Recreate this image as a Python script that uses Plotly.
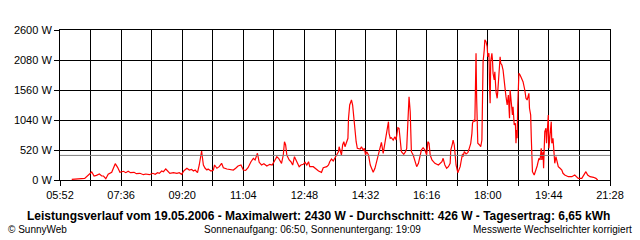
import plotly.graph_objects as go

# ---- data ----
TIMES = [
    "06:12", "06:29", "06:34", "06:46", "06:50", "06:54", "06:59", "07:03", "07:06", "07:10",
    "07:14", "07:20", "07:26", "07:30", "07:34", "07:40", "07:44", "07:48", "07:52", "07:58",
    "08:02", "08:08", "08:14", "08:18", "08:24", "08:30", "08:34", "08:38", "08:41", "08:45",
    "08:48", "08:52", "08:56", "08:59", "09:05", "09:11", "09:15", "09:19", "09:23", "09:28",
    "09:32", "09:36", "09:39", "09:42", "09:46", "09:49", "09:53", "09:56", "09:59", "10:02",
    "10:04", "10:09", "10:13", "10:15", "10:19", "10:23", "10:27", "10:30", "10:36", "10:41",
    "10:47", "10:51", "10:55", "11:00", "11:04", "11:08", "11:12", "11:17", "11:21", "11:24",
    "11:28", "11:31", "11:35", "11:39", "11:44", "11:49", "11:53", "11:57", "12:01", "12:04",
    "12:06", "12:09", "12:12", "12:14", "12:16", "12:18", "12:22", "12:25", "12:28", "12:31",
    "12:35", "12:39", "12:42", "12:46", "12:49", "12:52", "12:55", "12:57", "13:03", "13:06",
    "13:12", "13:17", "13:20", "13:26", "13:29", "13:31", "13:34", "13:37", "13:40", "13:43",
    "13:46", "13:47", "13:50", "13:51", "13:53", "13:55", "13:57", "13:59", "14:00", "14:02",
    "14:03", "14:05", "14:07", "14:08", "14:10", "14:12", "14:14", "14:16", "14:18", "14:23",
    "14:25", "14:28", "14:30", "14:32", "14:34", "14:37", "14:40", "14:42", "14:45", "14:48",
    "14:51", "14:54", "14:57", "14:59", "15:02", "15:05", "15:07", "15:09", "15:11", "15:12",
    "15:14", "15:16", "15:19", "15:22", "15:24", "15:27", "15:29", "15:31", "15:33", "15:37",
    "15:40", "15:42", "15:44", "15:46", "15:48", "15:50", "15:53", "15:56", "15:59", "16:02",
    "16:05", "16:07", "16:10", "16:13", "16:16", "16:18", "16:20", "16:22", "16:25", "16:27",
    "16:30", "16:36", "16:42", "16:44", "16:47", "16:50", "16:53", "16:56", "16:57", "17:00",
    "17:01", "17:03", "17:05", "17:06", "17:09", "17:11", "17:13", "17:15", "17:17", "17:18",
    "17:20", "17:23", "17:26", "17:28", "17:31", "17:33", "17:34", "17:36", "17:38", "17:39",
    "17:40", "17:41", "17:42", "17:43", "17:46", "17:48", "17:50", "17:51", "17:52", "17:54",
    "17:55", "17:57", "17:59", "18:00", "18:02", "18:03", "18:04", "18:05", "18:07", "18:08",
    "18:09", "18:11", "18:12", "18:14", "18:16", "18:17", "18:19", "18:21", "18:22", "18:24",
    "18:26", "18:28", "18:30", "18:31", "18:33", "18:35", "18:37", "18:38", "18:40", "18:42",
    "18:43", "18:45", "18:47", "18:48", "18:49", "18:50", "18:51", "18:53", "18:55", "18:58",
    "19:00", "19:03", "19:05", "19:07", "19:10", "19:11", "19:13", "19:14", "19:16", "19:19",
    "19:21", "19:24", "19:27", "19:29", "19:31", "19:32", "19:34", "19:35", "19:37", "19:39",
    "19:40", "19:42", "19:43", "19:44", "19:46", "19:48", "19:49", "19:51", "19:53", "19:54",
    "19:56", "19:58", "20:00", "20:03", "20:06", "20:08", "20:11", "20:17", "20:23", "20:28",
    "20:31", "20:34", "20:40", "20:43", "20:47", "20:50", "20:54", "21:00", "21:04", "21:07",
]
WATTS = [
    12, 17, 29, 139, 69, 81, 104, 69, 69, 23,
    99, 133, 283, 220, 133, 151, 127, 151, 127, 133,
    109, 116, 92, 104, 92, 116, 99, 127, 116, 156,
    144, 191, 144, 116, 127, 116, 127, 99, 161, 203,
    173, 185, 156, 173, 127, 260, 503, 260, 203, 173,
    191, 156, 173, 260, 203, 231, 289, 213, 191, 185,
    173, 203, 243, 260, 173, 168, 213, 317, 376, 347,
    463, 307, 260, 283, 243, 272, 260, 329, 404, 376,
    329, 289, 433, 664, 607, 433, 347, 317, 260, 404,
    317, 231, 260, 272, 307, 260, 317, 231, 231, 203,
    156, 133, 213, 231, 260, 317, 364, 329, 376, 433,
    491, 577, 463, 433, 607, 664, 577, 636, 693, 723,
    1069, 1300, 1357, 1387, 1300, 1069, 837, 664, 549, 537,
    577, 520, 549, 433, 491, 433, 260, 191, 133, 203,
    317, 463, 549, 653, 463, 664, 780, 924, 1011, 809,
    723, 733, 693, 751, 693, 907, 896, 693, 491, 445,
    491, 549, 1184, 1444, 1184, 491, 433, 317, 231, 289,
    433, 520, 560, 520, 433, 664, 636, 433, 347, 317,
    289, 260, 317, 376, 260, 203, 231, 289, 520, 636,
    693, 607, 376, 260, 127, 173, 231, 347, 451, 404,
    491, 451, 473, 532, 636, 809, 983, 1040, 1011, 1589,
    2196, 1444, 983, 636, 607, 577, 693, 1127, 2051, 2253,
    2430, 2397, 2311, 2137, 2196, 1647, 1329, 2051, 2196, 2080,
    1849, 1733, 1877, 1531, 1416, 1531, 1964, 2137, 2023, 1993,
    1907, 1763, 1531, 1444, 1300, 1473, 1069, 1560, 1300, 1127,
    1271, 953, 983, 636, 867, 723, 1300, 1849, 1820, 1733,
    1704, 1560, 1416, 1387, 1503, 1243, 1127, 751, 144, 87,
    144, 243, 376, 347, 549, 347, 491, 203, 837, 896,
    636, 924, 1127, 549, 837, 1011, 636, 723, 433, 289,
    404, 289, 231, 203, 173, 116, 87, 57, 57, 87,
    57, 29, 29, 87, 144, 87, 57, 47, 29, 0,
]
X_TICK_LABELS = ["05:52", "07:36", "09:20", "11:04", "12:48",
                 "14:32", "16:16", "18:00", "19:44", "21:28"]
Y_TICK_VALUES = [0, 520, 1040, 1560, 2080, 2600]
Y_TICK_LABELS = ["0 W", "520 W", "1040 W", "1560 W", "2080 W", "2600 W"]
AVERAGE_W = 426
TITLE = ("Leistungsverlauf vom 19.05.2006 - Maximalwert: 2430 W - "
         "Durchschnitt: 426 W - Tagesertrag: 6,65 kWh")
FOOT_LEFT = "\u00a9 SunnyWeb"
FOOT_MID = "Sonnenaufgang: 06:50, Sonnenuntergang: 19:09"
FOOT_RIGHT = "Messwerte Wechselrichter korrigiert"


def to_min(s):
    h, m = s.split(":")
    return int(h) * 60 + int(m)


x_vals = [to_min(t) for t in TIMES]
tick_vals = [to_min(t) for t in X_TICK_LABELS]
minor_vals = [(a + b) / 2 for a, b in zip(tick_vals[:-1], tick_vals[1:])]

FONT = "Liberation Sans, Arial, sans-serif"

fig = go.Figure()
fig.add_trace(go.Scatter(
    x=x_vals, y=WATTS, mode="lines",
    line=dict(color="#ff0000", width=1.2),
    hoverinfo="skip", showlegend=False,
))

fig.add_shape(type="line", xref="paper", x0=0, x1=1, yref="y",
              y0=AVERAGE_W, y1=AVERAGE_W,
              line=dict(color="#808080", width=1), layer="above")

fig.update_layout(
    width=640, height=240,
    margin=dict(l=60, r=30, t=30, b=60),
    paper_bgcolor="white", plot_bgcolor="white",
    font=dict(family=FONT, size=11, color="black"),
    showlegend=False,
)
fig.update_xaxes(
    range=[tick_vals[0], tick_vals[-1]],
    tickmode="array", tickvals=tick_vals, ticktext=X_TICK_LABELS,
    ticks="outside", ticklen=5, tickwidth=1, tickcolor="black",
    showgrid=True, gridcolor="black", gridwidth=1,
    showline=True, linecolor="black", linewidth=1, mirror=True,
    zeroline=False,
    minor=dict(tickvals=minor_vals, ticks="outside", ticklen=5,
               tickcolor="black", tickwidth=1,
               showgrid=True, gridcolor="black", gridwidth=1),
    tickfont=dict(size=11, color="black"),
    fixedrange=True,
)
fig.update_yaxes(
    range=[0, Y_TICK_VALUES[-1]],
    tickmode="array", tickvals=Y_TICK_VALUES, ticktext=Y_TICK_LABELS,
    ticks="outside", ticklen=5, tickwidth=1, tickcolor="black",
    showgrid=True, gridcolor="black", gridwidth=1,
    showline=True, linecolor="black", linewidth=1, mirror=True,
    zeroline=False,
    tickfont=dict(size=11, color="black"),
    fixedrange=True,
)


def px_x(p):
    return (p - 60) / 550.0


def px_y(p):
    return (180 - p) / 150.0


fig.add_annotation(text="<b>" + TITLE + "</b>", xref="paper", yref="paper",
                   x=px_x(318), y=px_y(216), xanchor="center", yanchor="middle",
                   showarrow=False, font=dict(size=12, family=FONT))
fig.add_annotation(text=FOOT_LEFT, xref="paper", yref="paper",
                   x=px_x(6), y=px_y(229), xanchor="left", yanchor="middle",
                   showarrow=False, font=dict(size=10, family=FONT))
fig.add_annotation(text=FOOT_MID, xref="paper", yref="paper",
                   x=px_x(202), y=px_y(229), xanchor="left", yanchor="middle",
                   showarrow=False, font=dict(size=10, family=FONT))
fig.add_annotation(text=FOOT_RIGHT, xref="paper", yref="paper",
                   x=px_x(634), y=px_y(229), xanchor="right", yanchor="middle",
                   showarrow=False, font=dict(size=10, family=FONT))

fig.write_html("out.html", config={"displayModeBar": False})
